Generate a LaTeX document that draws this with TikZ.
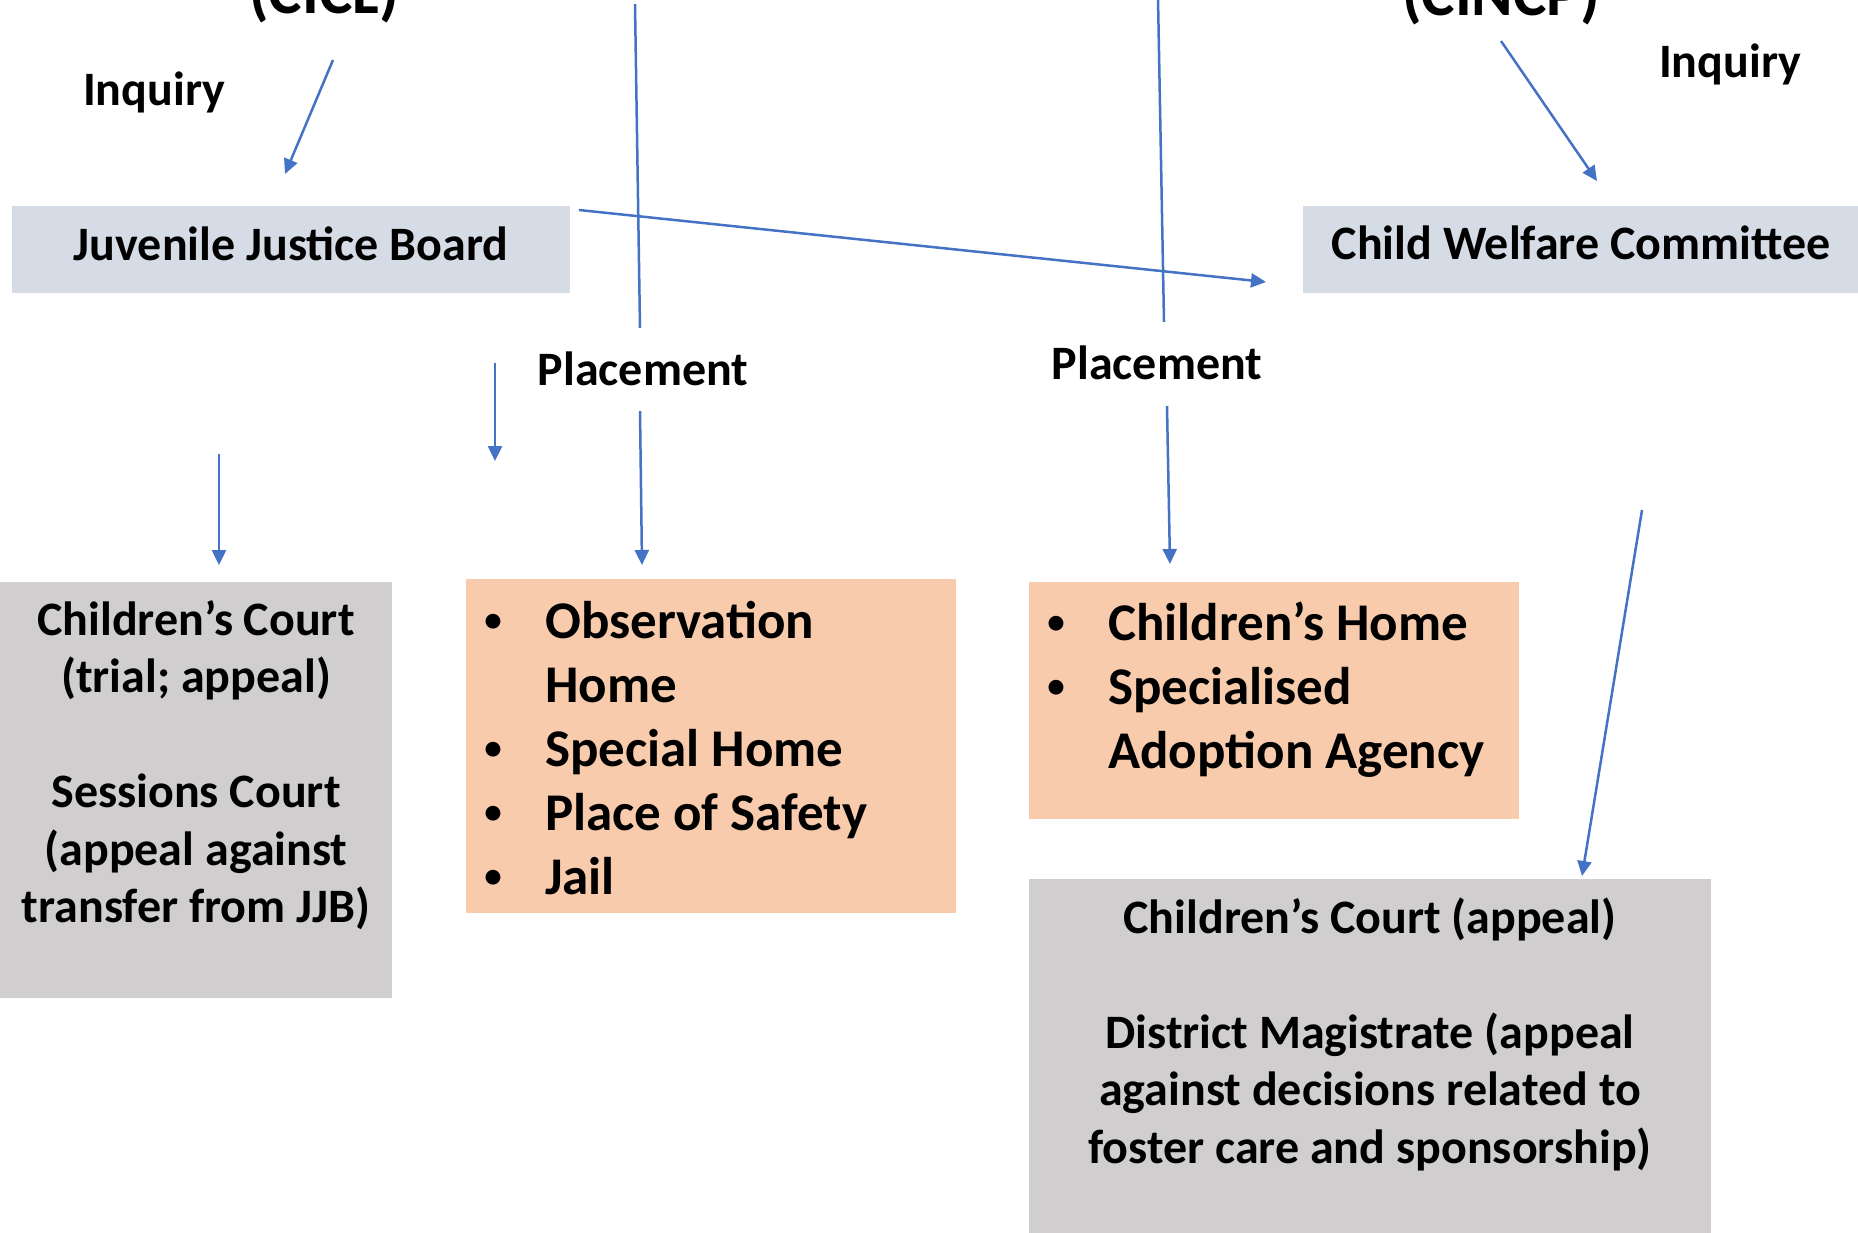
\documentclass[tikz,border=0pt]{standalone}
\usepackage{fontspec}
\setmainfont{Carlito}
\usetikzlibrary{arrows.meta}
\definecolor{arrowblue}{HTML}{4472C4}
\definecolor{boardfill}{HTML}{D6DCE5}
\definecolor{courtfill}{HTML}{D0CECE}
\definecolor{homefill}{HTML}{F8CBAD}
\newcommand\listbullet{\llap{\makebox[0pt]{\raisebox{6.5pt}{\fontsize{35}{40}\selectfont\textbullet}}\hspace{52pt}}}
\begin{document}
\begin{tikzpicture}[x=1pt,y=-1pt,
  conn/.style={draw=arrowblue, line width=2.5pt, -{Triangle[length=15pt,width=14pt]}},
  plainline/.style={draw=arrowblue, line width=2.5pt},
  boxshape/.style={rectangle, inner sep=0pt, anchor=north west},
  lbl/.style={font=\fontsize{48}{57.5}\selectfont\bfseries, inner sep=0pt, anchor=base},
  boxtext/.style={font=\fontsize{48}{57.5}\selectfont\bfseries, inner sep=0pt, anchor=north, align=center},
  listtext/.style={font=\fontsize{53}{64}\selectfont\bfseries, inner sep=0pt, anchor=north west, align=left},
  toptext/.style={font=\fontsize{63}{75}\selectfont\bfseries, inner sep=0pt, anchor=base},
]
\useasboundingbox (0,0) rectangle (1858,1232);
\clip (0,0) rectangle (1858,1232);

% top (cut-off) headings
\node[toptext] (cicl) at (324,13) {(CICL)};
\node[toptext] (cincp) at (1501,15) {(CINCP)};

% boards
\node[boxshape, fill=boardfill, minimum width=558pt, minimum height=87pt,
      font=\fontsize{48}{57.5}\selectfont\bfseries, text height=30pt, text depth=8pt]
      (jjb) at (12,206) {Juvenile Justice Board};
\node[boxshape, fill=boardfill, minimum width=556pt, minimum height=87pt,
      font=\fontsize{48}{57.5}\selectfont\bfseries, text height=30pt, text depth=10pt]
      (cwc) at (1303,206) {Child Welfare Committee};

% labels
\node[lbl] (inqL) at (154,105) {Inquiry};
\node[lbl] (inqR) at (1730,77) {Inquiry};
\node[lbl] (placeL) at (643,385) {Placement};
\node[lbl] (placeR) at (1157,379) {Placement};

% lower boxes
\node[boxshape, fill=courtfill, minimum width=392pt, minimum height=416pt] (courtL) at (0,582) {};
\node[boxtext] (courtLtxt) at (196,594.75) {\strut Children’s Court\\(trial; appeal)\\ \mbox{}\\Sessions Court\\(appeal against\\transfer from JJB)};

\node[boxshape, fill=homefill, minimum width=490pt, minimum height=334pt] (homeL) at (466,579) {};
\node[listtext] (homeLtxt) at (545,593.2) {\strut\listbullet Observation\\Home\\\listbullet Special Home\\\listbullet Place of Safety\\\listbullet Jail};

\node[boxshape, fill=homefill, minimum width=490pt, minimum height=237pt] (homeR) at (1029,582) {};
\node[listtext] (homeRtxt) at (1108,595.2) {\strut\listbullet Children’s Home\\\listbullet Specialised\\Adoption Agency};

\node[boxshape, fill=courtfill, minimum width=682pt, minimum height=360pt] (courtR) at (1029,879) {};
\node[boxtext] (courtRtxt) at (1370,892.75) {\strut Children’s Court (appeal)\\ \mbox{}\\District Magistrate (appeal\\against decisions related to\\foster care and sponsorship)};

% connector end points
\coordinate (iLs) at (333,60);   \coordinate (iLe) at (285,174);
\coordinate (iRs) at (1501,41);  \coordinate (iRe) at (1597,181);
\coordinate (crs) at (579,210);  \coordinate (cre) at (1266,282);
\coordinate (v1s) at (635,4);    \coordinate (v1e) at (640,328);
\coordinate (v2s) at (1158,-2);  \coordinate (v2e) at (1164,322);
\coordinate (pas) at (495,363);  \coordinate (pae) at (495,461);
\coordinate (pbs) at (219,454);  \coordinate (pbe) at (219,565);
\coordinate (pcs) at (640,411);  \coordinate (pce) at (642,565);
\coordinate (pds) at (1167,406); \coordinate (pde) at (1170,564);
\coordinate (pes) at (1642,510); \coordinate (pee) at (1582,876);

% connectors
\draw[conn] (iLs) -- (iLe);
\draw[conn] (iRs) -- (iRe);
\draw[plainline] (v1s) -- (v1e);
\draw[plainline] (v2s) -- (v2e);
\draw[conn] (crs) -- (cre);
\draw[conn] (pas) -- (pae);
\draw[conn] (pbs) -- (pbe);
\draw[conn] (pcs) -- (pce);
\draw[conn] (pds) -- (pde);
\draw[conn] (pes) -- (pee);
\end{tikzpicture}
\end{document}
